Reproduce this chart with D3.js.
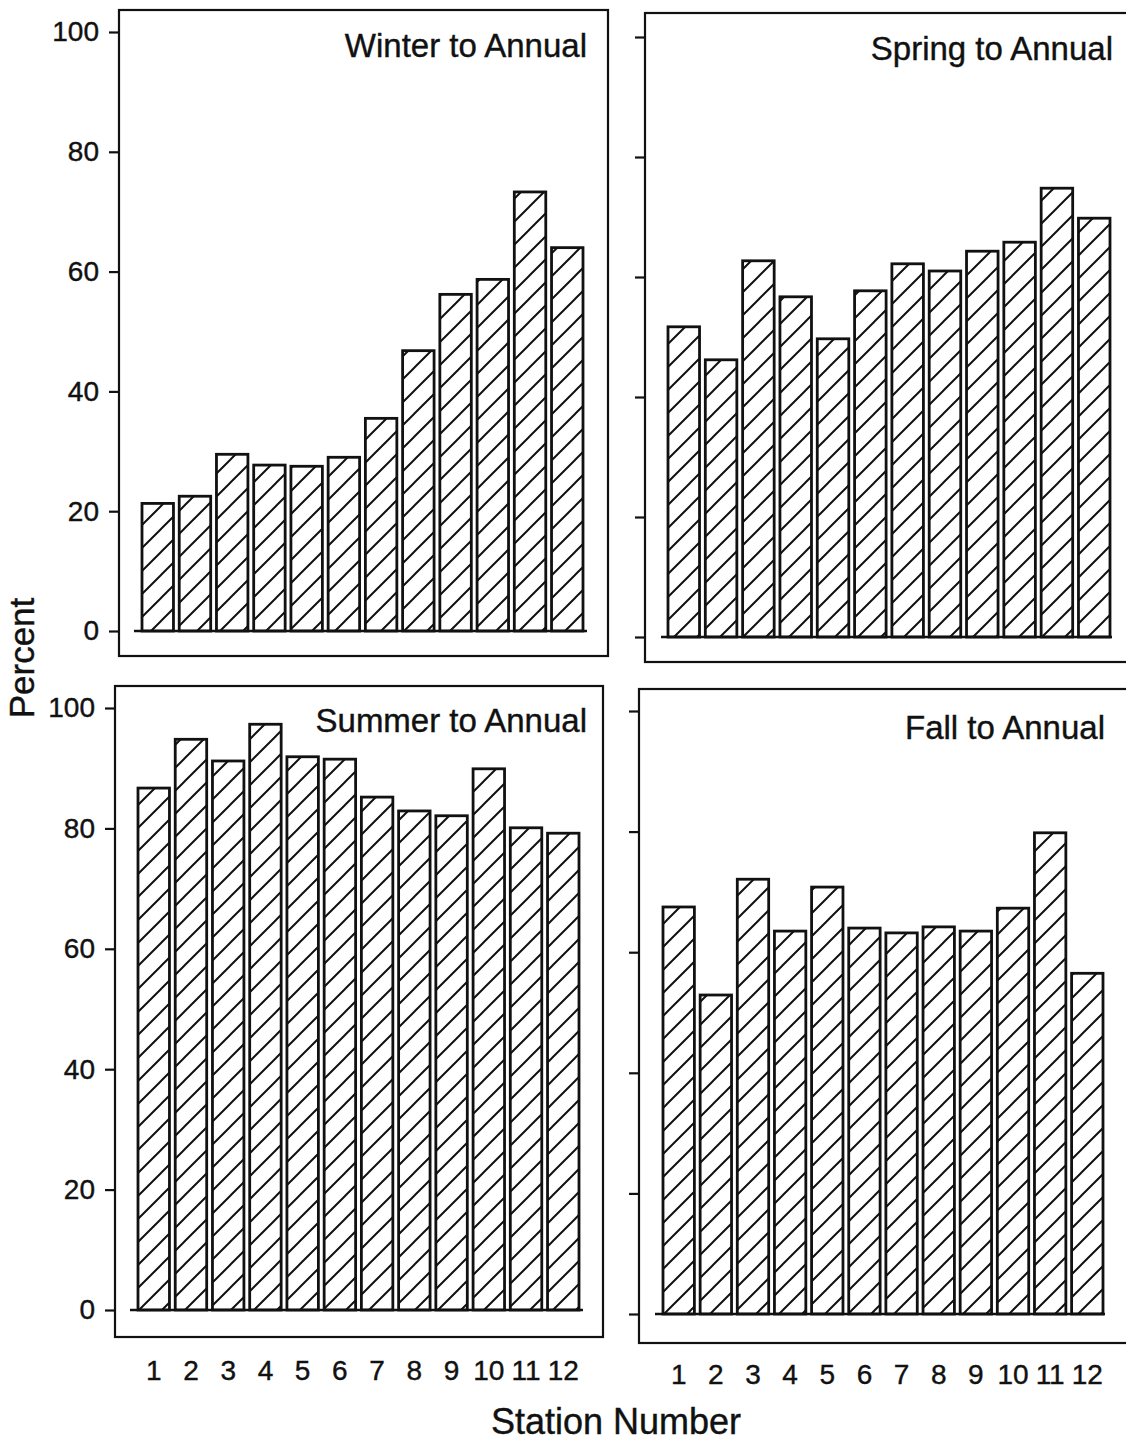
<!DOCTYPE html>
<html>
<head>
<meta charset="utf-8">
<script src="https://cdn.jsdelivr.net/npm/d3@7"></script>
<style>
  body { margin: 0; background: #fff; }
  svg { display: block; font-family: "Liberation Sans", Arial, Helvetica, sans-serif; }
  text { stroke: #111; stroke-width: 0.4px; }
</style>
</head>
<body>
<div id="chart"></div>
<script>
// station numbers and the four seasonal ratios (percent of annual)
var stations = [1, 2, 3, 4, 5, 6, 7, 8, 9, 10, 11, 12];
var winter = [21.3, 22.5, 29.5, 27.7, 27.5, 29.0, 35.5, 46.8, 56.2, 58.7, 73.3, 64.0];
var spring = [51.7, 46.2, 62.7, 56.7, 49.7, 57.7, 62.2, 61.0, 64.3, 65.8, 74.8, 69.8];
var summer = [86.7, 94.8, 91.2, 97.3, 91.9, 91.5, 85.2, 82.9, 82.1, 89.9, 80.1, 79.2];
var fall = [67.5, 52.9, 72.1, 63.5, 70.8, 64.0, 63.2, 64.2, 63.5, 67.3, 79.8, 56.5];
var yTicks = [0, 20, 40, 60, 80, 100];
var titles = ["Winter to Annual", "Spring to Annual", "Summer to Annual", "Fall to Annual"];

var W = 1126, H = 1442;

// panel layout (scan is a little skewed, so each panel has its own frame)
var panels = [
  {values: winter, box: [119, 10, 608, 656], xr: [142, 583], yr: [631, 32], base: [134, 587],
   tx: 587, ty: 57, yLabels: true, xLabels: false},
  {values: spring, box: [645, 13, 1140, 662], xr: [668, 1110], yr: [637, 37], base: [661, 1112],
   tx: 1113, ty: 60, yLabels: false, xLabels: false},
  {values: summer, box: [115, 686, 603, 1337], xr: [138, 579], yr: [1310, 708], base: [130, 583],
   tx: 587, ty: 732, yLabels: true, xLabels: true},
  {values: fall, box: [639, 689, 1140, 1343], xr: [663, 1103], yr: [1314, 711], base: [655, 1105],
   tx: 1105, ty: 739, yLabels: false, xLabels: true}
];

var svg = d3.select("#chart")
  .append("svg")
  .attr("width", W)
  .attr("height", H);

svg.append("rect").attr("width", W).attr("height", H).attr("fill", "#fff");

// diagonal hatch "/"
var p = 23;
svg.append("defs")
  .append("pattern")
  .attr("id", "hatch")
  .attr("patternUnits", "userSpaceOnUse")
  .attr("width", p)
  .attr("height", p)
  .append("path")
  .attr("d", "M-2,2 L2,-2 M0," + p + " L" + p + ",0 M" + (p - 2) + "," + (p + 2) + " L" + (p + 2) + "," + (p - 2))
  .attr("stroke", "#111")
  .attr("stroke-width", 2);

panels.forEach(function(pn, i) {
  var g = svg.append("g");

  var x = d3.scaleBand()
    .domain(stations)
    .range(pn.xr)
    .paddingInner(0.155)
    .paddingOuter(0);

  var y = d3.scaleLinear()
    .domain([0, 100])
    .range(pn.yr);

  // frame
  g.append("rect")
    .attr("x", pn.box[0])
    .attr("y", pn.box[1])
    .attr("width", pn.box[2] - pn.box[0])
    .attr("height", pn.box[3] - pn.box[1])
    .attr("fill", "none")
    .attr("stroke", "#111")
    .attr("stroke-width", 2.2);

  // y axis ticks
  var yAxis = d3.axisLeft(y)
    .tickValues(yTicks)
    .tickSize(10)
    .tickPadding(10)
    .tickFormat(pn.yLabels ? d3.format("d") : "");

  var ya = g.append("g")
    .attr("transform", "translate(" + pn.box[0] + ",0)")
    .call(yAxis);
  ya.select(".domain").remove();
  ya.selectAll("line").attr("stroke", "#111").attr("stroke-width", 2.2);
  ya.selectAll("text")
    .attr("fill", "#111")
    .style("font-size", "28px")
    .style("font-family", "'Liberation Sans', Arial, sans-serif");

  // bars
  g.selectAll(".bar")
    .data(pn.values)
    .enter()
    .append("rect")
    .attr("class", "bar")
    .attr("x", function(d, j) { return x(stations[j]); })
    .attr("y", function(d) { return y(d); })
    .attr("width", x.bandwidth())
    .attr("height", function(d) { return y(0) - y(d); })
    .attr("fill", "url(#hatch)")
    .attr("stroke", "#111")
    .attr("stroke-width", 2.8);

  // baseline
  g.append("line")
    .attr("x1", pn.base[0])
    .attr("x2", pn.base[1])
    .attr("y1", y(0))
    .attr("y2", y(0))
    .attr("stroke", "#111")
    .attr("stroke-width", 2.6);

  // station labels under the bottom panels
  if (pn.xLabels) {
    var xa = g.append("g")
      .attr("transform", "translate(0," + y(0) + ")")
      .call(d3.axisBottom(x).tickSize(0).tickPadding(50));
    xa.select(".domain").remove();
    xa.selectAll("text")
      .attr("fill", "#111")
      .style("font-size", "28px")
      .style("font-family", "'Liberation Sans', Arial, sans-serif");
  }

  // panel title
  g.append("text")
    .attr("x", pn.tx)
    .attr("y", pn.ty)
    .attr("text-anchor", "end")
    .style("font-size", "33px")
    .attr("fill", "#111")
    .text(titles[i]);
});

// shared axis titles
svg.append("text")
  .attr("transform", "translate(34,658) rotate(-90)")
  .attr("text-anchor", "middle")
  .style("font-size", "35px")
  .attr("fill", "#111")
  .text("Percent");

svg.append("text")
  .attr("x", 616)
  .attr("y", 1434)
  .attr("text-anchor", "middle")
  .style("font-size", "36px")
  .attr("fill", "#111")
  .text("Station Number");
</script>
</body>
</html>
